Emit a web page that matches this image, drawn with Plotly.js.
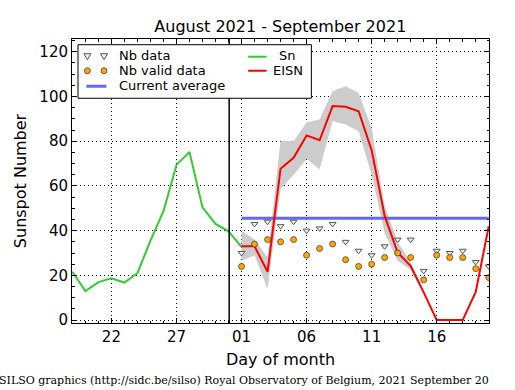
<!DOCTYPE html>
<html><head><meta charset="utf-8">
<script src="https://cdn.plot.ly/plotly-3.0.1.min.js"></script>
<style>html,body{margin:0;padding:0;background:#fff;} #chart{width:515px;height:390px;}</style>
</head><body><div id="chart"></div>
<script>
// ---- data (day index: 0 = 1 September 2021) ----
const snDays = [-13,-12,-11,-10,-9,-8,-7,-6,-5,-4,-3,-2,-1,0];
const snValues = [21.6,13,17,18.7,16.8,21,35.5,48.7,69.4,75.2,50.4,43,39.7,32.7];
const sepDays = [0,1,2,3,4,5,6,7,8,9,10,11,12,13,14,15,16,17,18,19];
const eisnValues = [33,33,21.6,67.7,72.6,82.6,80.4,95.7,95.4,93.4,76,46.6,30.2,24.2,12.4,0,0,0,12.6,42];
const eisnUpper = [40,36,28,80.3,80,88.4,89.7,102.4,104.6,101.6,86,51,35,26,13,0,0,0,13,43];
const eisnLower = [26.5,29,14,58.6,65,72,67.4,89,87.5,84.5,65,39,26.5,22.5,12,0,0,0,12.2,41];
const nbData = [30,43,44,42,44,40,41,43,35,31,29,33,36,36,22,31,30,31,26,24];
const nbValid = [24,34,36,35,36,29,32,34,27,24,25,28,30,28,18,29,28,28,23,19];
const avgDays = [0,19];
const avgValue = [45.5,45.5];
const monthBoundary = [-0.95];
const tickVals = [-10,-5,0,5,10,15];
const tickText = ['22','27','01','06','11','16'];

// ---- frame geometry (pixels) ----
const L=72.3, R=489, T=39.3, B=323, W=515, H=390;
const px = v => (v-L)/(R-L);
const py = v => (B-v)/(B-T);

const traces = [
  {x:sepDays, y:eisnLower, mode:'lines', line:{width:0,color:'rgba(0,0,0,0)'}, hoverinfo:'skip'},
  {x:sepDays, y:eisnUpper, mode:'lines', line:{width:0,color:'rgba(0,0,0,0)'}, fill:'tonexty', fillcolor:'#cccccc', hoverinfo:'skip'},
  {x:snDays, y:snValues, mode:'lines', line:{color:'#33cc33', width:2}, name:'Sn'},
  {x:avgDays, y:avgValue, mode:'lines', line:{color:'#6666ff', width:3}, name:'Current average'},
  {x:sepDays, y:eisnValues, mode:'lines', line:{color:'#ff0000', width:2}, name:'EISN'},
  {x:sepDays, y:nbData, mode:'markers', marker:{symbol:'triangle-down', size:6, color:'#f2f2f2', line:{color:'#555555', width:1}}, name:'Nb data'},
  {x:sepDays, y:nbValid, mode:'markers', marker:{symbol:'circle', size:6, color:'#ffa500', line:{color:'#333333', width:0.7}}, name:'Nb valid data'}
];

const shapes = [
  {type:'line', xref:'x', yref:'paper', x0:monthBoundary[0], x1:monthBoundary[0], y0:0, y1:1, line:{color:'#000', width:1.5}, layer:'above'},
  {type:'rect', xref:'paper', yref:'paper', x0:px(78.3), x1:px(311.5), y0:py(98.5), y1:py(45), fillcolor:'#ffffff', line:{color:'#000', width:1}, layer:'above'}
];
function tri(cx, cy){
  return {type:'path', xref:'paper', yref:'paper', layer:'above',
    path:`M ${px(cx-3.5)} ${py(cy-3)} L ${px(cx+3.5)} ${py(cy-3)} L ${px(cx)} ${py(cy+3)} Z`,
    fillcolor:'#f2f2f2', line:{color:'#555555', width:1}};
}
function dot(cx, cy){
  return {type:'circle', xref:'paper', yref:'paper', layer:'above',
    x0:px(cx-3), x1:px(cx+3), y0:py(cy+3), y1:py(cy-3),
    fillcolor:'#ffa500', line:{color:'#333333', width:0.7}};
}
function seg(x0, x1, y, color, w){
  return {type:'line', xref:'paper', yref:'paper', layer:'above',
    x0:px(x0), x1:px(x1), y0:py(y), y1:py(y), line:{color:color, width:w}};
}
shapes.push(tri(87.7,57), tri(104.3,57), dot(87.7,71), dot(104.3,71),
  seg(86.7,106.7,86.5,'#6666ff',3), seg(248.3,266.7,57,'#33cc33',2), seg(248.3,266.7,71,'#ff0000',2));

function lab(text, x, y, anchor){
  return {text:text, xref:'paper', yref:'paper', x:px(x), y:py(y), xanchor:anchor, yanchor:'middle',
    showarrow:false, font:{size:13, family:'DejaVu Sans', color:'#000'}};
}
const annotations = [
  lab('Nb data',117,56,'left'), lab('Nb valid data',117,71,'left'), lab('Current average',117,86,'left'),
  lab('Sn',288,56,'center'), lab('EISN',288,71,'center'),
  {text:'SILSO graphics (http://sidc.be/silso) Royal Observatory of Belgium, 2021 September 20',
   xref:'paper', yref:'paper', x:px(-3), y:py(380), xanchor:'left', yanchor:'middle', showarrow:false,
   font:{size:11, family:'DejaVu Serif', color:'#000'}}
];

const axisCommon = {
  ticks:'inside', ticklen:5, tickwidth:1, tickcolor:'#000',
  showline:true, linecolor:'#000', linewidth:1, mirror:'ticks',
  showgrid:true, gridcolor:'#000', gridwidth:1, griddash:'1px,3px', zeroline:false,
  tickfont:{size:15, family:'DejaVu Sans', color:'#000'}
};

const layout = {
  width:W, height:H,
  margin:{l:L, r:W-R, t:T, b:H-B, pad:0},
  paper_bgcolor:'#ffffff', plot_bgcolor:'#ffffff',
  font:{family:'DejaVu Sans', color:'#000'},
  showlegend:false,
  title:{text:'August 2021 - September 2021', font:{size:16, family:'DejaVu Sans', color:'#000'},
    x:px(280.5), xref:'paper', xanchor:'center', y:1-26/H, yref:'container', yanchor:'middle'},
  xaxis:Object.assign({}, axisCommon, {
    range:[-13.03,19.02], tickmode:'array', tickvals:tickVals, ticktext:tickText,
    minor:{tickmode:'linear', tick0:0, dtick:1, ticks:'inside', ticklen:2.5, tickcolor:'#000', showgrid:false},
    title:{text:'Day of month', font:{size:16, family:'DejaVu Sans', color:'#000'}, standoff:8}
  }),
  yaxis:Object.assign({}, axisCommon, {
    range:[-1.3,125.7], tickmode:'linear', tick0:0, dtick:20,
    minor:{tickmode:'linear', tick0:0, dtick:5, ticks:'inside', ticklen:2.5, tickcolor:'#000', showgrid:false},
    title:{text:'Sunspot Number', font:{size:16, family:'DejaVu Sans', color:'#000'}, standoff:8}
  }),
  shapes:shapes,
  annotations:annotations
};

Plotly.newPlot('chart', traces, layout, {staticPlot:true, displayModeBar:false});
</script>
</body></html>
